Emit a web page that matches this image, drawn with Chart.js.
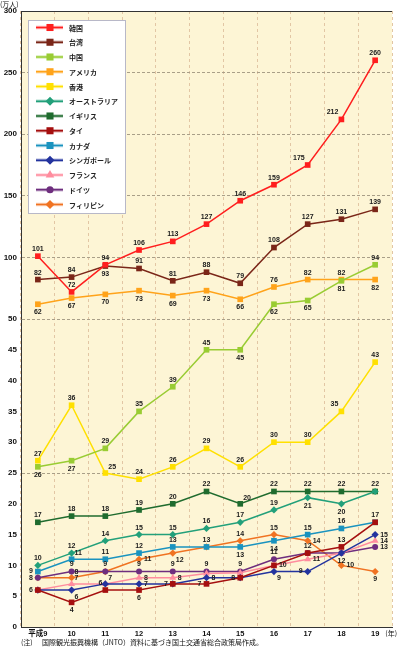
<!DOCTYPE html>
<html><head><meta charset="utf-8">
<script src="https://cdn.jsdelivr.net/npm/chart.js@4"></script>
<style>html,body{margin:0;padding:0;background:#fff;}canvas{display:block;}</style>
</head><body>
<canvas id="c" width="397" height="648"></canvas>
<script>
// ---- data ----
const categories = ['平成9','10','11','12','13','14','15','16','17','18','19'];
const korea       = [101,72,94,106,113,127,146,159,175,212,260];
const taiwan      = [82,84,93,91,81,88,79,108,127,131,139];
const china       = [26,27,29,35,39,45,45,62,65,81,94];
const usa         = [62,67,70,73,69,73,66,76,82,82,82];
const hongkong    = [27,36,25,24,26,29,26,30,30,35,43];
const australia   = [10,12,14,15,15,16,17,19,21,20,22];
const uk          = [17,18,18,19,20,22,20,22,22,22,22];
const thailand    = [6,4,6,6,7,7,8,10,12,13,17];
const canada      = [9,11,11,12,13,13,13,14,15,16,17];
const singapore   = [6,6,7,7,7,8,8,9,9,12,15];
const france      = [6,7,7,8,8,8.7,8.8,10,11,12,14];
const germany     = [8,9,9,9,9,9,9,11,12,12,13];
const philippines = [8,8,9,11,12,13,14,15,14,10,9];
const yTickLabels = [0,5,10,15,20,25,30,35,40,45,50,100,150,200,250,300];
const unitLabel = '(万人)';
const yearLabel = '(年)';
const noteHead = '(注)';
const noteText = '国際観光振興機構（JNTO）資料に基づき国土交通省総合政策局作成。';

// label placement per point (a=above,b=below,l=left,r=right,ar/al/br, ''=none)
const labelPos = {
  '韓国':        ['a','a','a','a','a','a','a','a','al','al','a'],
  '台湾':        ['a','a','b','a','a','a','a','a','a','a','a'],
  '中国':        ['b','b','a','a','a','a','b','b','b','b','a'],
  'アメリカ':    ['b','b','b','b','b','b','b','a','a','a','b'],
  '香港':        ['a','a','ar','a','a','a','a','a','a','al','a'],
  'オーストラリア':['a','a','a','a','a','a','a','a','b','b',''],
  'イギリス':    ['a','a','a','a','a','a','ar','a','a','a','a'],
  'タイ':        ['l','b','al','b','','l','l','r','','a',''],
  'カナダ':      ['l','ar','a','a','a','a','b','b','a','a','a'],
  'シンガポール':['','br','ar','r','l','r','','br','l','b','r'],
  'フランス':    ['','ar','','r','r','','','','r','','r'],
  'ドイツ':      ['l','a','a','a','a','a','a','a','a','','r'],
  'フィリピン':  ['','ar','','r','br','','a','a','r','r','b']
};

const series = [
  {name:'韓国', data:korea, color:'#FF1E1E', style:'rect'},
  {name:'台湾', data:taiwan, color:'#7A2618', style:'rect'},
  {name:'中国', data:china, color:'#99CC33', style:'rect'},
  {name:'アメリカ', data:usa, color:'#FFA31A', style:'rect'},
  {name:'香港', data:hongkong, color:'#FFE000', style:'rect'},
  {name:'オーストラリア', data:australia, color:'#22A07A', style:'rectRot'},
  {name:'イギリス', data:uk, color:'#1F6B2E', style:'rect'},
  {name:'タイ', data:thailand, color:'#A50F0F', style:'rect'},
  {name:'カナダ', data:canada, color:'#1A93BF', style:'rect'},
  {name:'シンガポール', data:singapore, color:'#23339E', style:'rectRot'},
  {name:'フランス', data:france, color:'#FF8C9E', style:'triangle'},
  {name:'ドイツ', data:germany, color:'#6E2E7E', style:'circle'},
  {name:'フィリピン', data:philippines, color:'#F07322', style:'rectRot'}
];

// broken axis: 0-50 linear, 50-300 compressed 5x
function tf(v){ return v <= 50 ? v : 50 + (v - 50) / 5; }
const pointR = {rect:4, rectRot:3.6, circle:3, triangle:4};

const NUMFONT = '"Liberation Sans", Arial, "Noto Sans CJK JP", sans-serif';
const JPFONT = '"Noto Sans CJK JP", sans-serif';

const datasets = series.map(s => ({
  label: s.name,
  data: s.data.map(tf),
  raw: s.data,
  labelPos: labelPos[s.name],
  borderColor: s.color,
  backgroundColor: s.color,
  borderWidth: 1.5,
  tension: 0,
  pointStyle: s.style,
  pointRadius: pointR[s.style],
  pointBackgroundColor: s.color,
  pointBorderColor: s.color,
  pointBorderWidth: 0,
  fill: false
}));

function drawMarker(ctx, style, x, y, r, color){
  ctx.fillStyle = color;
  ctx.beginPath();
  if (style === 'rect') { const s = r * Math.SQRT1_2; ctx.rect(x - s, y - s, 2 * s, 2 * s); }
  else if (style === 'rectRot') { ctx.moveTo(x, y - r); ctx.lineTo(x + r, y); ctx.lineTo(x, y + r); ctx.lineTo(x - r, y); ctx.closePath(); }
  else if (style === 'circle') { ctx.arc(x, y, r, 0, Math.PI * 2); }
  else if (style === 'triangle') {
    ctx.moveTo(x, y - r);
    ctx.lineTo(x + r * Math.sin(Math.PI/3), y + r * 0.5);
    ctx.lineTo(x - r * Math.sin(Math.PI/3), y + r * 0.5);
    ctx.closePath();
  }
  ctx.fill();
}

const bgPlugin = {
  id: 'bg',
  beforeDraw(chart){
    const {ctx, chartArea: a} = chart;
    ctx.save();
    ctx.fillStyle = '#FDF5D5';
    ctx.fillRect(a.left, a.top, a.right - a.left, a.bottom - a.top);
    ctx.restore();
  },
  afterDraw(chart){
    const {ctx, chartArea: a} = chart;
    ctx.save();
    ctx.strokeStyle = '#333';
    ctx.lineWidth = 1;
    ctx.beginPath();
    ctx.moveTo(a.left, a.top + 0.5);
    ctx.lineTo(a.right, a.top + 0.5);
    ctx.stroke();
    // texts
    ctx.fillStyle = '#111';
    ctx.textBaseline = 'middle';
    ctx.font = '7px ' + JPFONT;
    ctx.textAlign = 'left';
    ctx.fillText(unitLabel, 0, 4);
    ctx.textAlign = 'right';
    ctx.fillText(yearLabel, 397, 633);
    ctx.textAlign = 'left';
    ctx.fillText(noteHead, 21, 642);
    ctx.fillText(noteText, 42, 642);
    ctx.restore();
  }
};

const valueLabelPlugin = {
  id: 'vlabels',
  afterDatasetsDraw(chart){
    const ctx = chart.ctx;
    ctx.save();
    ctx.font = 'bold 7px ' + NUMFONT;
    ctx.fillStyle = '#1a1a1a';
    ctx.textBaseline = 'middle';
    chart.data.datasets.forEach((ds, i) => {
      const meta = chart.getDatasetMeta(i);
      meta.data.forEach((pt, j) => {
        const p = ds.labelPos[j];
        if (!p) return;
        const txt = String(Math.round(ds.raw[j]));
        let x = pt.x, y = pt.y, align = 'center';
        switch (p) {
          case 'a': y -= 7; break;
          case 'b': y += 8; break;
          case 'l': x -= 5; align = 'right'; break;
          case 'r': x += 5; align = 'left'; break;
          case 'ar': x += 3; y -= 6; align = 'left'; break;
          case 'br': x += 3; y += 7; align = 'left'; break;
          case 'al': x -= 3; y -= 7; align = 'right'; break;
        }
        ctx.textAlign = align;
        ctx.fillText(txt, x, y);
      });
    });
    ctx.restore();
  }
};

const legendPlugin = {
  id: 'customLegend',
  afterDraw(chart){
    const ctx = chart.ctx;
    ctx.save();
    const bx = 28.5, by = 20.5, bw = 97, bh = 193;
    ctx.fillStyle = '#fff';
    ctx.fillRect(bx, by, bw, bh);
    ctx.strokeStyle = '#B8B8C8';
    ctx.lineWidth = 1;
    ctx.strokeRect(bx, by, bw, bh);
    ctx.font = 'bold 7px ' + JPFONT;
    ctx.textBaseline = 'middle';
    ctx.textAlign = 'left';
    const ds = chart.data.datasets;
    ds.forEach((d, i) => {
      const y = 27.5 + i * 14.75;
      ctx.strokeStyle = d.borderColor;
      ctx.globalAlpha = 0.35;
      ctx.lineWidth = 3.5;
      ctx.beginPath(); ctx.moveTo(36, y); ctx.lineTo(63, y); ctx.stroke();
      ctx.globalAlpha = 1;
      ctx.lineWidth = 1.5;
      ctx.beginPath(); ctx.moveTo(36, y); ctx.lineTo(63, y); ctx.stroke();
      const st = d.pointStyle;
      const r = st === 'rect' ? 5 : st === 'rectRot' ? 4.5 : st === 'circle' ? 3.6 : 5;
      drawMarker(ctx, st, 50, y, r, d.borderColor);
      ctx.fillStyle = '#222';
      ctx.fillText(d.label, 69, y + 0.5);
    });
    ctx.restore();
  }
};

const hGridVals = [25, 50, 100, 150, 200, 250].map(tf);

new Chart(document.getElementById('c'), {
  type: 'line',
  data: { labels: categories, datasets },
  options: {
    responsive: false,
    animation: false,
    devicePixelRatio: 1,
    events: [],
    layout: { padding: { top: 11, right: 5, left: 0, bottom: 0 } },
    plugins: { legend: { display: false }, tooltip: { enabled: false } },
    scales: {
      x: {
        type: 'category',
        offset: true,
        grid: { offset: true, color: '#E2C6A4', lineWidth: 1, drawTicks: false },
        border: { display: true, color: '#333', width: 1, dash: [3, 3] },
        ticks: { font: { size: 7.5, weight: 'bold', family: NUMFONT }, color: '#111', padding: 2, maxRotation: 0, autoSkip: false },
        afterFit(s){ s.height = 21; }
      },
      y: {
        min: 0, max: 100,
        afterBuildTicks(s){ s.ticks = yTickLabels.map(v => ({ value: tf(v) })); },
        ticks: {
          callback: (v, i) => String(yTickLabels[i]),
          font: { size: 8, weight: 'bold', family: NUMFONT }, color: '#111', padding: 4
        },
        grid: {
          drawTicks: false, lineWidth: 1,
          color: ctx => (ctx.tick && hGridVals.includes(ctx.tick.value)) ? '#A99F88' : 'rgba(0,0,0,0)'
        },
        border: { display: true, color: '#333', width: 1, dash: [3, 2] },
        afterFit(s){ s.width = 21; }
      }
    }
  },
  plugins: [bgPlugin, valueLabelPlugin, legendPlugin]
});
</script>
</body></html>
